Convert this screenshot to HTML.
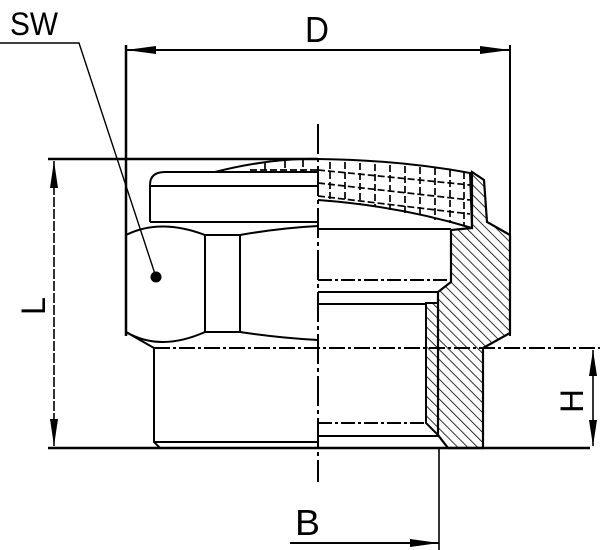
<!DOCTYPE html>
<html><head><meta charset="utf-8"><style>body{margin:0;background:#fff}svg{display:block}text{font-family:"Liberation Sans",sans-serif;fill:#000}</style></head><body>
<svg width="600" height="550" viewBox="0 0 600 550" xmlns="http://www.w3.org/2000/svg">
<defs>
<pattern id="h" width="7" height="7" patternUnits="userSpaceOnUse" patternTransform="rotate(-45)">
<line x1="0" y1="0" x2="0" y2="7" stroke="#000" stroke-width="1.6"/></pattern>
</defs>
<g stroke="#000" fill="none" stroke-width="2">
<!-- SW -->
<text x="10" y="35" font-size="32" stroke="none" textLength="48" lengthAdjust="spacingAndGlyphs">SW</text>
<polyline points="0,43 79,43 156,277" stroke-width="1.4"/>
<circle cx="156" cy="277" r="4.5" fill="#000"/>
<!-- D -->
<text x="305" y="42" font-size="36" stroke="none" textLength="24" lengthAdjust="spacingAndGlyphs">D</text>
<line x1="126" y1="50" x2="510" y2="50"/>
<polygon points="126,50 156,46 156,54" fill="#000" stroke="none"/>
<polygon points="510,50 480,46 480,54" fill="#000" stroke="none"/>
<line x1="126" y1="45" x2="126" y2="336" stroke-width="2.5"/>
<line x1="510" y1="45" x2="510" y2="336" stroke-width="2"/>
<!-- top/bottom lines -->
<line x1="48" y1="159" x2="318" y2="159" stroke-width="2.4"/>
<line x1="48" y1="448" x2="590" y2="448" stroke-width="2.4"/>
<!-- L -->
<line x1="54" y1="161" x2="54" y2="446" stroke-width="1.6" stroke-dasharray="10,2"/>
<polygon points="54,161 50,188 58,188" fill="#000" stroke="none"/>
<polygon points="54,446 50,419 58,419" fill="#000" stroke="none"/>
<text transform="translate(45,315) rotate(-90)" font-size="34" stroke="none" textLength="18" lengthAdjust="spacingAndGlyphs">L</text>
<!-- centerline -->
<line x1="318" y1="124" x2="318" y2="482" stroke-width="2" stroke-dasharray="30,4,4,4"/>
<!-- left half: cap -->
<path d="M150,222 L150,185 Q150,172 165,172 L318,172"/>
<line x1="150" y1="186" x2="318" y2="186"/>
<line x1="150" y1="222" x2="318" y2="222"/>
<!-- hex -->
<path d="M126,235 Q160,218 205,235 L240,235 Q280,228 318,226" />
<path d="M126,332 Q160,352 205,332 L240,332 Q280,338 318,340"/>
<line x1="205" y1="235" x2="205" y2="332"/><line x1="240" y1="235" x2="240" y2="332"/>
<line x1="126" y1="332" x2="154" y2="348"/>
<!-- lower body -->
<line x1="154" y1="348" x2="600" y2="348" stroke-width="2" stroke-dasharray="16,3,3,3"/>
<path d="M154,348 L154,442 L160,448"/>
<line x1="154" y1="442" x2="318" y2="442"/>
<!-- knurl band -->
<path d="M215,172 Q270,158 318,159 Q400,160 470,173 L472,228 Q400,206 318,200" stroke-width="2"/>
<g stroke-dasharray="7,3" stroke-width="1.7">
<line x1="318" y1="170" x2="470" y2="185"/><line x1="318" y1="183" x2="470" y2="200"/><line x1="318" y1="196" x2="470" y2="214"/>
<line x1="330" y1="162" x2="330" y2="200"/><line x1="345" y1="162" x2="345" y2="202"/><line x1="360" y1="163" x2="360" y2="204"/><line x1="375" y1="164" x2="375" y2="207"/><line x1="390" y1="165" x2="390" y2="210"/><line x1="405" y1="166" x2="405" y2="213"/><line x1="420" y1="167" x2="420" y2="217"/><line x1="435" y1="168" x2="435" y2="220"/><line x1="450" y1="170" x2="450" y2="223"/><line x1="464" y1="172" x2="464" y2="226"/>
<line x1="250" y1="170" x2="318" y2="170"/><line x1="265" y1="163" x2="265" y2="172"/><line x1="285" y1="161" x2="285" y2="172"/><line x1="303" y1="160" x2="303" y2="172"/>
</g>
<!-- right half hatched section -->
<path d="M472,172 L484,180 L487,222 L510,235 L510,333 L483,348 L483,448 L448,448 L438,435 L438,292 L451,282 L451,230 L472,228 Z" fill="url(#h)" stroke-width="2.2"/>
<path d="M438,303 L426,303 L426,423 L438,435" fill="url(#h)"/>
<!-- right half internal lines -->
<line x1="318" y1="229" x2="451" y2="229"/>
<line x1="318" y1="280" x2="451" y2="280" stroke-dasharray="14,3,3,3"/>
<line x1="318" y1="292" x2="438" y2="292"/>
<line x1="318" y1="304" x2="426" y2="304"/>
<line x1="318" y1="423" x2="426" y2="423" stroke-dasharray="14,3,3,3"/>
<line x1="318" y1="436" x2="438" y2="436"/>
<!-- H -->
<line x1="593" y1="350" x2="593" y2="446" stroke-width="1.6"/>
<polygon points="593,350 589,376 597,376" fill="#000" stroke="none"/>
<polygon points="593,446 589,420 597,420" fill="#000" stroke="none"/>
<text transform="translate(583,413) rotate(-90)" font-size="32" stroke="none" textLength="24" lengthAdjust="spacingAndGlyphs">H</text>
<!-- B -->
<line x1="439" y1="448" x2="439" y2="550" stroke-width="1.6"/>
<line x1="290" y1="543" x2="439" y2="543" stroke-width="2"/>
<polygon points="439,543 410,539 410,547" fill="#000" stroke="none"/>
<text x="295" y="535" font-size="36" stroke="none" textLength="25" lengthAdjust="spacingAndGlyphs">B</text>
</g>
</svg>
</body></html>
